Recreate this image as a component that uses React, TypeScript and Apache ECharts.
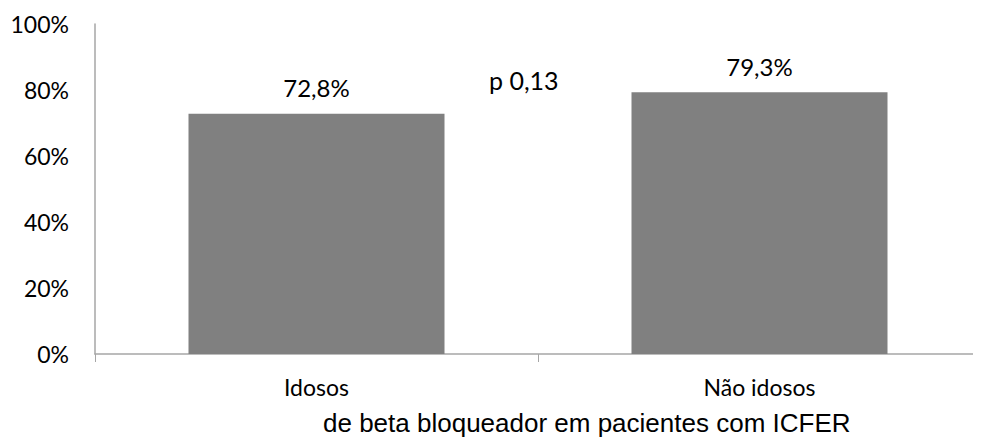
import { useEffect, useRef } from 'react';
import * as echarts from 'echarts';

const categories = ['Idosos', 'Não idosos'];
const values = [0.728, 0.793];
const valueLabels = ['72,8%', '79,3%'];
const pValueText = 'p 0,13';
const footerText = 'de beta bloqueador em pacientes com ICFER';

const FONT = 'Lato, "Open Sans", sans-serif';

export default function App() {
    const chartRef = useRef<HTMLDivElement>(null);

    useEffect(() => {
        if (!chartRef.current) return;
        const chart = echarts.init(chartRef.current, null, { renderer: 'svg' });

        const option: echarts.EChartsOption = {
            animation: false,
            backgroundColor: '#ffffff',
            textStyle: { fontFamily: FONT },
            // grid runs a bit past the right edge so the bars sit where they do in the original
            grid: { left: 95, width: 894, top: 24, bottom: 91 },
            title: {
                text: footerText,
                left: 323,
                top: 410,
                padding: 0,
                textStyle: {
                    fontFamily: '"Liberation Sans", Arial, sans-serif',
                    fontSize: 26,
                    fontWeight: 'normal',
                    color: '#000000'
                }
            },
            graphic: [
                {
                    type: 'text',
                    left: 489,
                    top: 67,
                    style: {
                        text: pValueText,
                        fontFamily: FONT,
                        fontSize: 25,
                        fill: '#000000'
                    }
                }
            ],
            xAxis: {
                type: 'category',
                data: categories,
                boundaryGap: true,
                axisLine: { show: true, lineStyle: { color: '#a6a6a6', width: 1.5 } },
                axisTick: { show: true, alignWithLabel: false, length: 8, lineStyle: { color: '#a6a6a6' } },
                axisLabel: { color: '#000000', fontSize: 23, margin: 21, fontFamily: FONT }
            },
            yAxis: {
                type: 'value',
                min: 0,
                max: 1,
                interval: 0.2,
                axisLine: { show: true, lineStyle: { color: '#a6a6a6', width: 1.5 } },
                axisTick: { show: false },
                splitLine: { show: false },
                axisLabel: {
                    color: '#000000',
                    fontSize: 23,
                    margin: 26,
                    fontFamily: FONT,
                    formatter: (v: number) => `${Math.round(v * 100)}%`
                }
            },
            series: [
                {
                    type: 'bar',
                    data: values,
                    barWidth: 256,
                    itemStyle: { color: '#808080' },
                    label: {
                        show: true,
                        position: 'top',
                        distance: 14,
                        color: '#000000',
                        fontSize: 24,
                        fontFamily: FONT,
                        formatter: (p: any) => valueLabels[p.dataIndex]
                    }
                }
            ]
        };

        chart.setOption(option);
        return () => chart.dispose();
    }, []);

    return <div ref={chartRef} style={{ width: 981, height: 445, margin: -8 }} />;
}
